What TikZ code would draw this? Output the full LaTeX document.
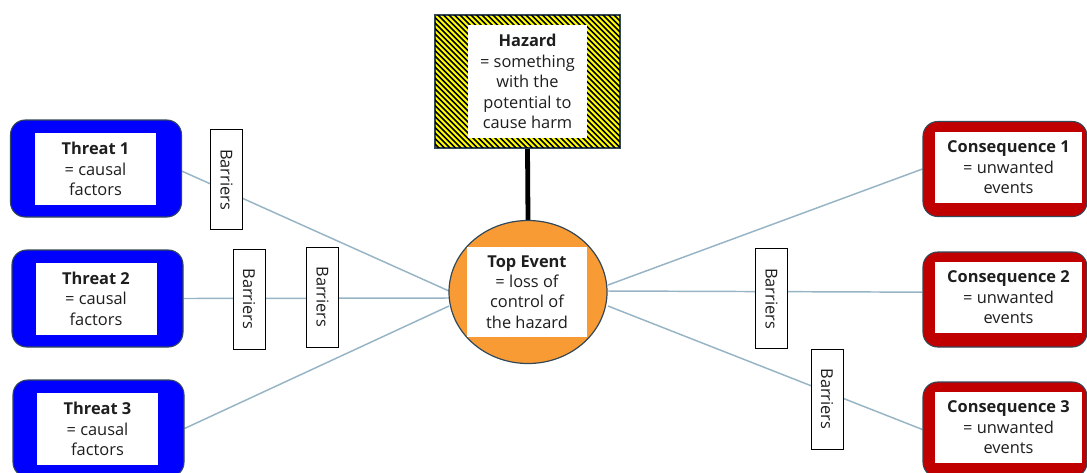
\documentclass[tikz,border=0pt]{standalone}
\usepackage{fontspec}
\setmainfont{Open Sans}
\usetikzlibrary{shapes.geometric,backgrounds}
\definecolor{threatblue}{RGB}{0,0,255}
\definecolor{consred}{RGB}{192,0,0}
\definecolor{topor}{RGB}{248,155,52}
\definecolor{edgec}{RGB}{50,72,88}
\definecolor{linkc}{RGB}{150,180,196}
\definecolor{txt}{RGB}{30,30,30}
\definecolor{hazy}{RGB}{255,255,0}
\tikzset{
  lbl/.style={font=\fontsize{12.3}{15.3}\selectfont, text=txt, align=center, inner sep=0pt},
  threatbox/.style={draw=edgec, line width=0.8pt, fill=threatblue, rounded corners=11pt,
    minimum width=128.25pt, minimum height=72.75pt, inner sep=0pt},
  consbox/.style={draw=edgec, line width=0.8pt, fill=consred, rounded corners=11pt,
    minimum width=123pt, minimum height=71.25pt, inner sep=0pt},
  tinner/.style={lbl, fill=white, minimum width=90.75pt, minimum height=54pt},
  cinner/.style={lbl, fill=white, minimum width=110.25pt, minimum height=53.25pt},
  hazbox/.style={draw=edgec, line width=0.8pt, fill=hazy, minimum width=138.75pt,
    minimum height=99.75pt, inner sep=0pt},
  hinner/.style={lbl, fill=white, minimum width=89.25pt, minimum height=84.75pt},
  topbox/.style={ellipse, draw=edgec, line width=0.9pt, fill=topor, minimum width=118.5pt,
    minimum height=107.25pt, inner sep=0pt},
  topinner/.style={lbl, fill=white, minimum width=90pt, minimum height=67.5pt},
  barrierbox/.style={lbl, draw=black, line width=0.7pt, fill=white, rotate=-90,
    minimum width=75pt, minimum height=24pt},
  link/.style={draw=linkc, line width=1.1pt},
  stem/.style={draw=black, line width=3.6pt},
  hatch/.style={draw=black, line width=1.3pt},
}
\begin{document}
\begin{tikzpicture}[x=0.75pt, y=-0.75pt]
\useasboundingbox (0,0) rectangle (1087,472);

% Hazard
\node[hazbox] (hz) at (527.5,81.5) {};
\begin{scope}
  \clip (hz.south west) rectangle (hz.north east);
  \foreach \i in {280,285.5,...,640} { \draw[hatch] (\i,0) -- ++(170,170); }
\end{scope}
\draw[draw=edgec, line width=0.8pt] (hz.south west) rectangle (hz.north east);
\node[hinner] (hzi) at (527.5,81.5) {\textbf{Hazard}\\= something\\with the\\potential to\\cause harm};

% Top event
\node[topbox] (top) at (528,292) {};
\node[topinner] (topi) at (527,292) {\textbf{Top Event}\\= loss of\\control of\\the hazard};

% Threats
\node[threatbox] (t1) at (96,168.5) {};
\node[tinner] (t1i) at (95.5,169) {\textbf{Threat 1}\\= causal\\factors};
\node[threatbox] (t2) at (97.5,298.5) {};
\node[tinner] (t2i) at (96,298.5) {\textbf{Threat 2}\\= causal\\factors};
\node[threatbox] (t3) at (98.5,428.5) {};
\node[tinner] (t3i) at (97.5,429) {\textbf{Threat 3}\\= causal\\factors};

% Consequences
\node[consbox] (c1) at (1005,169) {};
\node[cinner] (c1i) at (1008.5,167.5) {\textbf{Consequence 1}\\= unwanted\\events};
\node[consbox] (c2) at (1005,299.5) {};
\node[cinner] (c2i) at (1008.5,297.5) {\textbf{Consequence 2}\\= unwanted\\events};
\node[consbox] (c3) at (1005,429.5) {};
\node[cinner] (c3i) at (1008.5,427.5) {\textbf{Consequence 3}\\= unwanted\\events};

% Barriers
\node[barrierbox] (b1) at (226.5,179.5) {Barriers};
\node[barrierbox] (b2) at (249,299) {Barriers};
\node[barrierbox] (b3) at (322.5,297) {Barriers};
\node[barrierbox] (b4) at (771.5,298.5) {Barriers};
\node[barrierbox] (b5) at (827,399) {Barriers};

% connection points on the top event
\coordinate (tl1) at (449,291);
\coordinate (tl2) at (449,298);
\coordinate (tl3) at (449,306);
\coordinate (tr1) at (608,285);
\coordinate (tr2) at (608,291);
\coordinate (tr3) at (608,306);

\begin{pgfonlayer}{background}
  \draw[stem] (hz.south) -- (top.north);
  \draw[link] ([yshift=-2pt]t1.east) -- (tl1);
  \draw[link] (t2.east) -- (tl2);
  \draw[link] (t3.east) -- (tl3);
  \draw[link] (tr1) -- (c1.west);
  \draw[link] (tr2) -- ([yshift=5.5pt]c2.west);
  \draw[link] (tr3) -- (c3.west);
\end{pgfonlayer}
\end{tikzpicture}
\end{document}
